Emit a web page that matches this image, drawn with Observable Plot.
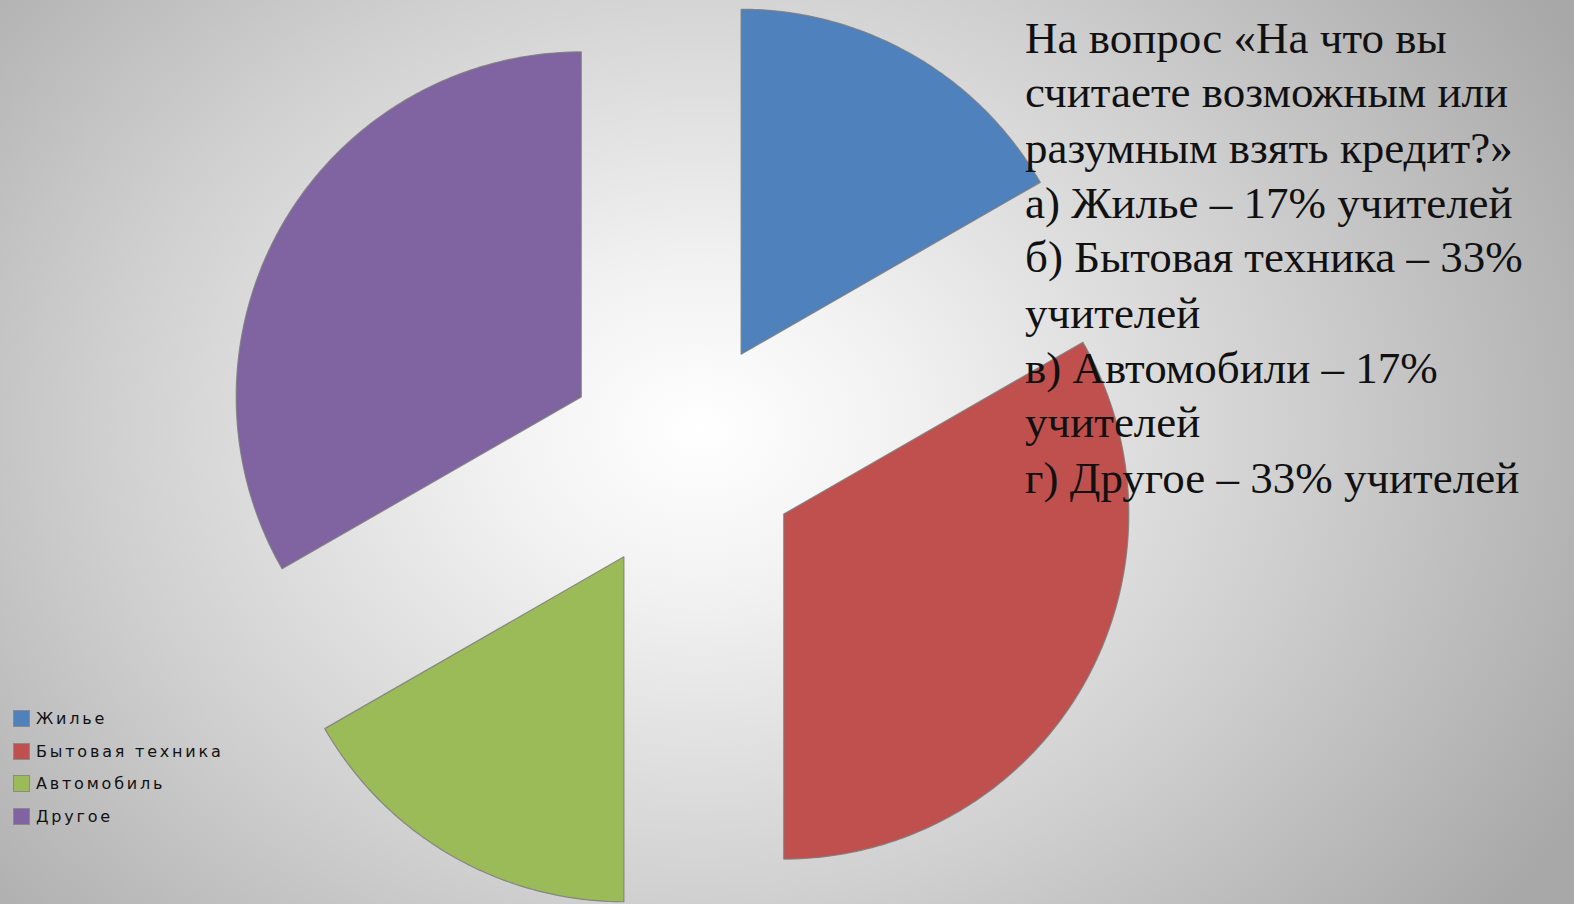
<!DOCTYPE html>
<html>
<head>
<meta charset="utf-8">
<script src="https://cdn.jsdelivr.net/npm/d3@7"></script>
<script src="https://cdn.jsdelivr.net/npm/@observablehq/plot@0.6"></script>
<style>
  html, body { margin: 0; padding: 0; }
  #wrap {
    position: relative; width: 1574px; height: 904px; overflow: hidden;
    background: radial-gradient(ellipse 1000px 800px at 700px 430px, #ffffff 0%, #f2f2f2 20%, #cfcfcf 60%, #a8a8a8 100%);
  }
  #chart { position: absolute; left: 0; top: 0; }
  #legend { position: absolute; left: 13px; top: 702px; color: #111; }
  #legend .item { display: flex; align-items: center; height: 32.7px; }
  #legend .sw { width: 17px; height: 17px; box-sizing: border-box; border: 1px solid #8a8a8a; margin-right: 6px; }
</style>
</head>
<body>
<div id="wrap">
  <div id="chart"></div>
  <div id="question" style="position:absolute; left:1025px; top:11px; font-family:'Liberation Serif', Tinos, serif; font-size:42px; line-height:51.33px; color:#111; white-space:nowrap; transform:scale(1.0714); transform-origin:0 0;"></div>
  <div id="legend"></div>
</div>
<script>
// ---- data ----
const categories = ["Жилье", "Бытовая техника", "Автомобиль", "Другое"];
const shares = [16.7, 33.3, 16.7, 33.3]; // percent of teachers
const colors = ["#4F81BD", "#C0504D", "#9BBB59", "#8064A2"];
const questionLines = [
  "На вопрос «На что вы",
  "считаете возможным или",
  "разумным взять кредит?»",
  "а) Жилье – 17% учителей",
  "б) Бытовая техника – 33%",
  "учителей",
  "в) Автомобили – 17%",
  "учителей",
  "г) Другое – 33% учителей"
];

// ---- layout ----
const W = 1574, H = 904;
const cx = 682, cy = 455;   // pie centre in px
const R = 345;              // radius in px
const explode = 117 / R;    // explosion offset, in radius units

const table = categories.map((c, i) => ({category: c, share: shares[i]}));
const arcs = d3.pie().sort(null).value(d => d.share)(table);

const pts = [];
for (const a of arcs) {
  const mid = (a.startAngle + a.endAngle) / 2;
  const ox = explode * Math.sin(mid), oy = explode * Math.cos(mid);
  pts.push({category: a.data.category, x: ox, y: oy});
  const n = Math.max(2, Math.ceil((a.endAngle - a.startAngle) / 0.01));
  for (let k = 0; k <= n; k++) {
    const t = a.startAngle + (a.endAngle - a.startAngle) * k / n;
    pts.push({category: a.data.category, x: ox + Math.sin(t), y: oy + Math.cos(t)});
  }
}

const plot = Plot.plot({
  width: W, height: H,
  margin: 0,
  style: {background: "transparent", overflow: "visible"},
  x: {domain: [-cx / R, (W - cx) / R], axis: null},
  y: {domain: [-(H - cy) / R, cy / R], axis: null},
  color: {type: "ordinal", domain: categories, range: colors},
  marks: [
    Plot.line(pts, {x: "x", y: "y", z: "category", fill: "category", stroke: "#7c7c7c", strokeWidth: 1.2, strokeOpacity: 0.85, curve: "linear-closed"})
  ]
});
document.getElementById("chart").appendChild(plot);

const q = document.getElementById("question");
questionLines.forEach(l => {
  const d = document.createElement("div");
  d.textContent = l;
  q.appendChild(d);
});

const leg = document.getElementById("legend");
categories.forEach((c, i) => {
  const it = document.createElement("div");
  it.className = "item";
  const sw = document.createElement("div");
  sw.className = "sw";
  sw.style.background = colors[i];
  const lb = document.createElement("span");
  lb.textContent = c;
  lb.style.cssText = "font-family:'DejaVu Sans', sans-serif; font-size:16px; letter-spacing:2.8px;";
  it.appendChild(sw);
  it.appendChild(lb);
  leg.appendChild(it);
});
</script>
</body>
</html>
